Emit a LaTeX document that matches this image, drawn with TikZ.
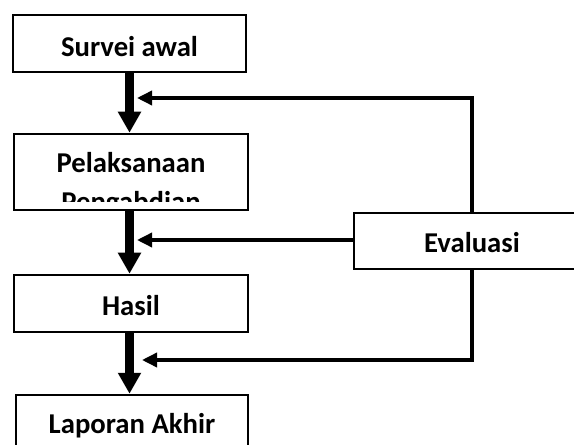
\documentclass[tikz,border=0pt]{standalone}
\usepackage{fontspec}
\setmainfont{Carlito}
\usetikzlibrary{arrows.meta}

\begin{document}
\begin{tikzpicture}[x=1bp, y=-1bp,
    box/.style={draw=black, line width=2.5bp, fill=white, inner sep=0pt,
        minimum width=234bp, minimum height=57bp, text height=23bp, text depth=0pt,
        font=\bfseries\fontsize{28.7bp}{38.5bp}\selectfont},
    flow/.style={draw=black, line width=9bp, -{Triangle[width=22bp, length=21bp]}},
    back/.style={draw=black, line width=3.5bp, -{Triangle[width=14bp, length=15bp]}}]
    \useasboundingbox (0,0) rectangle (574,445);
    \clip (0,0) rectangle (574,445);
    \node (survei) [box, minimum width=233bp, text height=26bp] at (129.5,43.5) {Survei awal};
    \node (pel)    [box, minimum height=76bp] at (131,172) {};
    \node (hasil)  [box] at (131,303.5) {Hasil};
    \node (lapor)  [box, minimum width=232bp, text height=20bp] at (132,423.5) {Laporan Akhir};
    \node (eval)   [box, minimum width=236bp, minimum height=56bp] at (472,241) {Evaluasi};
    % teks terpotong di kotak pelaksanaan
    \begin{scope}
        \clip (pel.north west) rectangle ([yshift=10bp]pel.south east);
        \node (peltext) [anchor=base, align=center, inner sep=0pt,
            font=\bfseries\fontsize{28.7bp}{38.5bp}\selectfont] at (131,211.5) {Pelaksanaan\\ Pengabdian};
    \end{scope}
    % alur utama
    \draw [flow] (survei.south) -- (survei.south |- pel.north);
    \draw [flow] (pel.south -| survei.south) -- (survei.south |- hasil.north);
    \draw [flow] (hasil.south -| survei.south) -- (survei.south |- lapor.north);
    % umpan balik evaluasi
    \coordinate (fb1) at (137,98);
    \coordinate (fb2) at (137,240);
    \coordinate (fb3) at (142,360);
    \draw [back] (eval.north) |- (fb1);
    \draw [back] (eval.west |- fb2) -- (fb2);
    \draw [back] (eval.south) |- (fb3);
\end{tikzpicture}
\end{document}
